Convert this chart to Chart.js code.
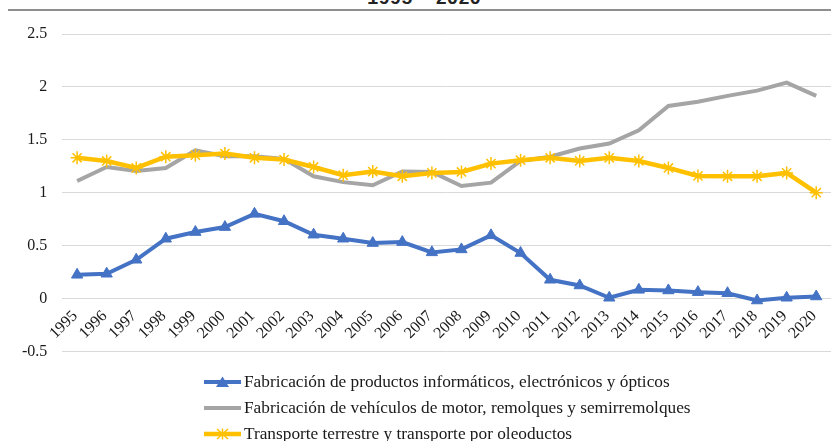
<!DOCTYPE html>
<html>
<head>
<meta charset="utf-8">
<script src="https://cdn.jsdelivr.net/npm/chart.js@4/dist/chart.umd.min.js"></script>
<style>
  html, body { margin: 0; padding: 0; background: #ffffff; }
  body { width: 831px; height: 441px; position: relative; overflow: hidden; }
  #title { position: absolute; left: 0; width: 848px; top: -11px; text-align: center;
           font-family: "Liberation Mono", "Courier New", monospace; font-weight: bold; font-size: 19px;
           line-height: 20px; color: #222; white-space: nowrap; }
  #rule { position: absolute; left: 8px; right: 0; top: 9px; height: 2px; background: #8f8f8f; }
  #wrap { position: absolute; left: 0; top: 0; width: 831px; height: 376px; }
  #legend { position: absolute; left: 204px; top: 369px;
            font-family: "Liberation Serif", "Times New Roman", "DejaVu Serif", serif;
            font-size: 17.3px; color: #1a1a1a; }
  .row { height: 26px; display: flex; align-items: center; white-space: nowrap; }
  .row svg { margin-right: 3px; flex: none; }
</style>
</head>
<body>
<div id="title">1995- 2020</div>
<div id="rule"></div>
<div id="wrap"><canvas id="c"></canvas></div>
<div id="legend"></div>
<script>
const years = ["1995","1996","1997","1998","1999","2000","2001","2002","2003","2004","2005","2006","2007","2008","2009","2010","2011","2012","2013","2014","2015","2016","2017","2018","2019","2020"];
const electronicos = [0.224,0.234,0.366,0.565,0.628,0.675,0.80,0.73,0.603,0.565,0.524,0.533,0.436,0.464,0.597,0.43,0.177,0.123,0.007,0.082,0.076,0.06,0.05,-0.019,0.007,0.019];
const vehiculos = [1.11,1.243,1.205,1.234,1.40,1.345,1.345,1.32,1.155,1.10,1.07,1.20,1.196,1.063,1.095,1.30,1.34,1.418,1.465,1.59,1.82,1.86,1.915,1.965,2.04,1.915];
const transporte = [1.33,1.30,1.234,1.34,1.355,1.37,1.33,1.313,1.243,1.165,1.20,1.155,1.187,1.196,1.275,1.307,1.33,1.30,1.33,1.30,1.234,1.158,1.155,1.155,1.187,1.0];
const seriesNames = [
  "Fabricación de productos informáticos, electrónicos y ópticos",
  "Fabricación de vehículos de motor, remolques y semirremolques",
  "Transporte terrestre y transporte por oleoductos"
];
const yTickLabels = ["-0.5","0","0.5","1","1.5","2","2.5"];
const yMin = -0.5, yMax = 2.5, yStep = 0.5;

const BLUE = "#4472C4", GRAY = "#A5A5A5", GOLD = "#FFC000";
const SERIF = '"Liberation Serif", "Times New Roman", "DejaVu Serif", serif';

// Category labels drawn at the zero line (axis crosses at 0), rotated 45 degrees
const axisAtZero = {
  id: "axisAtZero",
  beforeDatasetsDraw(chart) {
    const xs = chart.scales.x, ys = chart.scales.y, ctx = chart.ctx;
    const y0 = ys.getPixelForValue(0);
    ctx.save();
    ctx.font = "16px " + SERIF;
    ctx.fillStyle = "#1a1a1a";
    ctx.textAlign = "right";
    ctx.textBaseline = "middle";
    chart.data.labels.forEach((lab, i) => {
      const x = xs.getPixelForValue(i);
      ctx.save();
      ctx.translate(x - 2, y0 + 15);
      ctx.rotate(-Math.PI / 4);
      ctx.fillText(lab, 0, 0);
      ctx.restore();
    });
    ctx.restore();
  }
};

new Chart(document.getElementById("c"), {
  type: "line",
  data: {
    labels: years,
    datasets: [
      { label: seriesNames[0], data: electronicos, borderColor: BLUE, backgroundColor: BLUE,
        borderWidth: 4, pointStyle: "triangle", pointRadius: 6.5, pointBorderWidth: 1,
        pointBackgroundColor: BLUE, pointBorderColor: BLUE, order: 2, tension: 0 },
      { label: seriesNames[1], data: vehiculos, borderColor: GRAY, backgroundColor: GRAY,
        borderWidth: 4, pointRadius: 0, order: 1, tension: 0 },
      { label: seriesNames[2], data: transporte, borderColor: GOLD, backgroundColor: GOLD,
        borderWidth: 4.5, pointStyle: "star", pointRadius: 6.5, pointBorderWidth: 1.5,
        pointBorderColor: GOLD, pointBackgroundColor: GOLD, order: 0, tension: 0 }
    ]
  },
  options: {
    responsive: true,
    maintainAspectRatio: false,
    animation: false,
    layout: { autoPadding: false, padding: { left: 7, right: 0, top: 34, bottom: 0 } },
    plugins: { legend: { display: false }, tooltip: { enabled: false }, title: { display: false } },
    scales: {
      x: { type: "category", display: false, offset: true },
      y: {
        min: yMin, max: yMax,
        grid: { color: "#D9D9D9", lineWidth: 1, drawTicks: false },
        border: { display: false },
        ticks: { stepSize: yStep, padding: 15, color: "#1a1a1a",
                 font: { family: SERIF, size: 16 },
                 callback: (v, i) => yTickLabels[i] }
      }
    }
  },
  plugins: [axisAtZero]
});

// HTML legend built from the series names
const legend = document.getElementById("legend");
const markers = [
  '<polygon points="18.5,0.5 25,11 12,11" fill="' + BLUE + '"/>',
  '',
  '<g stroke="' + GOLD + '" stroke-width="1.5"><line x1="18.5" y1="0.5" x2="18.5" y2="11.5"/><line x1="13" y1="1" x2="24" y2="11"/><line x1="13" y1="11" x2="24" y2="1"/><line x1="12.5" y1="6" x2="24.5" y2="6"/></g>'
];
const colors = [BLUE, GRAY, GOLD];
seriesNames.forEach((name, i) => {
  const row = document.createElement("div");
  row.className = "row";
  row.innerHTML = '<svg width="37" height="12" viewBox="0 0 37 12"><line x1="0" y1="6" x2="37" y2="6" stroke="' +
    colors[i] + '" stroke-width="' + (i === 2 ? 4.5 : 4) + '"/>' + markers[i] + '</svg><span></span>';
  row.querySelector("span").textContent = name;
  legend.appendChild(row);
});
</script>
</body>
</html>
